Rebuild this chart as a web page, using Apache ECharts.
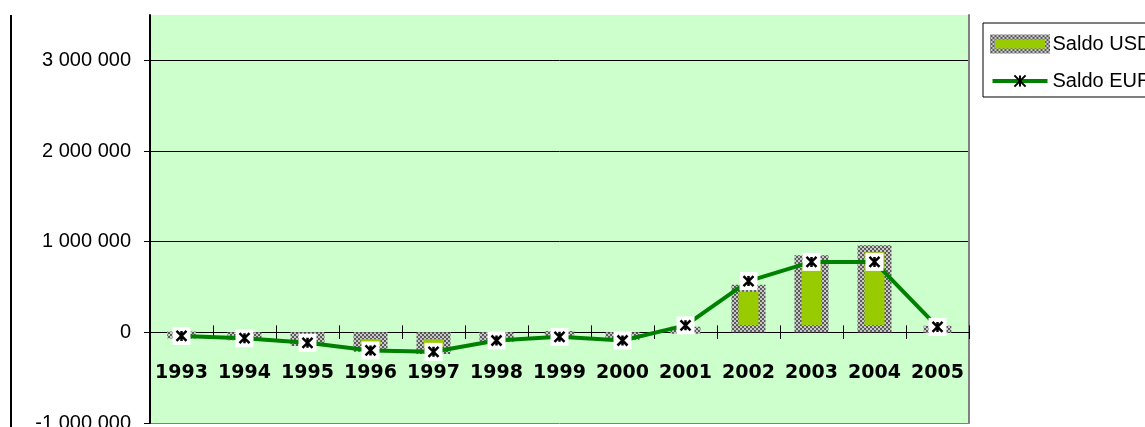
<!DOCTYPE html>
<html>
	<head>
		<meta charset="UTF-8" />
		<title>Saldo USD / EUR</title>
		<script src="https://cdn.jsdelivr.net/npm/echarts@6/dist/echarts.min.js"></script>
		<style>
			body { margin: 0; background: #fff; }
			#pic { width: 1145px; height: 427px; }
		</style>
	</head>
	<body>
		<div id="pic"></div>
		<script>
			// data
			var years = ['1993', '1994', '1995', '1996', '1997', '1998', '1999', '2000', '2001', '2002', '2003', '2004', '2005'];
			var saldoUsd = [-61000, -86000, -152000, -215000, -240000, -105000, -50000, -83000, 44000, 525000, 850000, 960000, 70000];
			var saldoEur = [-40000, -65000, -115000, -200000, -215000, -90000, -50000, -90000, 77000, 565000, 777000, 777000, 60000];
			var yTicks = [-1000000, 0, 1000000, 2000000, 3000000];

			// checkered border like the excel pattern fill
			var cv = document.createElement('canvas');
			cv.width = 4; cv.height = 4;
			var cx = cv.getContext('2d');
			cx.fillStyle = '#c8c8c8'; cx.fillRect(0, 0, 4, 4);
			cx.fillStyle = '#5a5a5a';
			cx.fillRect(0, 0, 2, 2); cx.fillRect(2, 2, 2, 2);
			var checker = { image: cv, repeat: 'repeat' };

			var star = 'path://M0,0L10,10M10,0L0,10M5,0L5,10';

			function fmt(v) {
				var s = String(Math.abs(v)).replace(/\B(?=(\d{3})+(?!\d))/g, ' ');
				return (v < 0 ? '-' : '') + s;
			}

			var myChart = echarts.init(document.getElementById('pic'));
			myChart.setOption({
				animation: false,
				backgroundColor: '#fff',
				grid: {
					left: 150, right: 176, top: 15, bottom: 4,
					outerBoundsMode: 'none',
					containLabel: false,
					show: true, backgroundColor: '#CCFFCC', borderWidth: 0
				},
				legend: {
					data: [
						{ name: 'Saldo USD', icon: 'rect', itemStyle: { borderWidth: 5 } },
						{ name: 'Saldo EUR', lineStyle: { width: 4 } }
					],
					orient: 'vertical',
					left: 983, top: 23,
					padding: [11, 40, 6, 7],
					itemGap: 17,
					itemWidth: 55, itemHeight: 14,
					backgroundColor: '#fff',
					borderColor: '#000', borderWidth: 1, borderRadius: 0,
					textStyle: { fontFamily: 'Liberation Sans', fontSize: 20, color: '#000' }
				},
				xAxis: [{
					// labels axis, shifted up onto the zero line (grid bottom 423 -> 332)
					type: 'category',
					data: years,
					offset: -91,
					axisLine: { onZero: false, lineStyle: { color: '#000', width: 1 } },
					axisTick: { show: true, length: 7, lineStyle: { color: '#000' } },
					axisLabel: { interval: 0, margin: 32, fontFamily: 'DejaVu Sans', fontWeight: 'bold', fontSize: 19, color: '#000' }
				}, {
					type: 'category',
					data: years,
					position: 'top',
					axisLine: { onZero: true, lineStyle: { color: '#000', width: 1 } },
					axisTick: { show: true, length: 7, lineStyle: { color: '#000' } },
					axisLabel: { show: false }
				}],
				yAxis: [{
					type: 'value',
					min: -1000000, max: 3500000, interval: 1000000,
					axisLine: { show: true, lineStyle: { color: '#000', width: 2 } },
					axisTick: { show: true, length: 6, customValues: yTicks, lineStyle: { color: '#000' } },
					axisLabel: {
						margin: 19, fontFamily: 'Liberation Sans', fontSize: 20, color: '#000',
						customValues: yTicks,
						formatter: function(v) { return fmt(v); }
					},
					splitLine: { show: true, lineStyle: { color: ['#808080', '#000', '#000', '#000', '#000', 'transparent'], width: 1 } }
				}, {
					type: 'value',
					position: 'right',
					min: -1000000, max: 3500000, interval: 1000000,
					axisLine: { show: true, lineStyle: { color: '#808080', width: 2 } },
					axisTick: { show: false },
					axisLabel: { show: false },
					splitLine: { show: false }
				}],
				graphic: [{
					type: 'line',
					shape: { x1: 11, y1: 15, x2: 11, y2: 427 },
					style: { stroke: '#000', lineWidth: 2 }
				}],
				series: [{
					name: 'Saldo USD',
					type: 'bar',
					data: saldoUsd,
					barWidth: 34,
					z: 2,
					itemStyle: {
						color: '#99CC00',
						borderColor: checker,
						borderWidth: 7
					}
				}, {
					name: 'Saldo EUR',
					type: 'line',
					data: saldoEur,
					z: 3,
					symbol: star,
					symbolSize: 10,
					lineStyle: { color: '#008000', width: 4 },
					itemStyle: { color: '#008000', borderColor: '#000', borderWidth: 2.5 }
				}, {
					name: 'eurBox',
					type: 'scatter',
					data: saldoEur,
					z: 4,
					symbol: 'rect',
					symbolSize: 18,
					itemStyle: { color: '#fff', opacity: 1 }
				}, {
					name: 'eurStar',
					type: 'scatter',
					data: saldoEur,
					z: 5,
					symbol: star,
					symbolSize: 10,
					itemStyle: { color: 'transparent', borderColor: '#000', borderWidth: 2.5, opacity: 1 }
				}]
			});
		</script>
	</body>
</html>
